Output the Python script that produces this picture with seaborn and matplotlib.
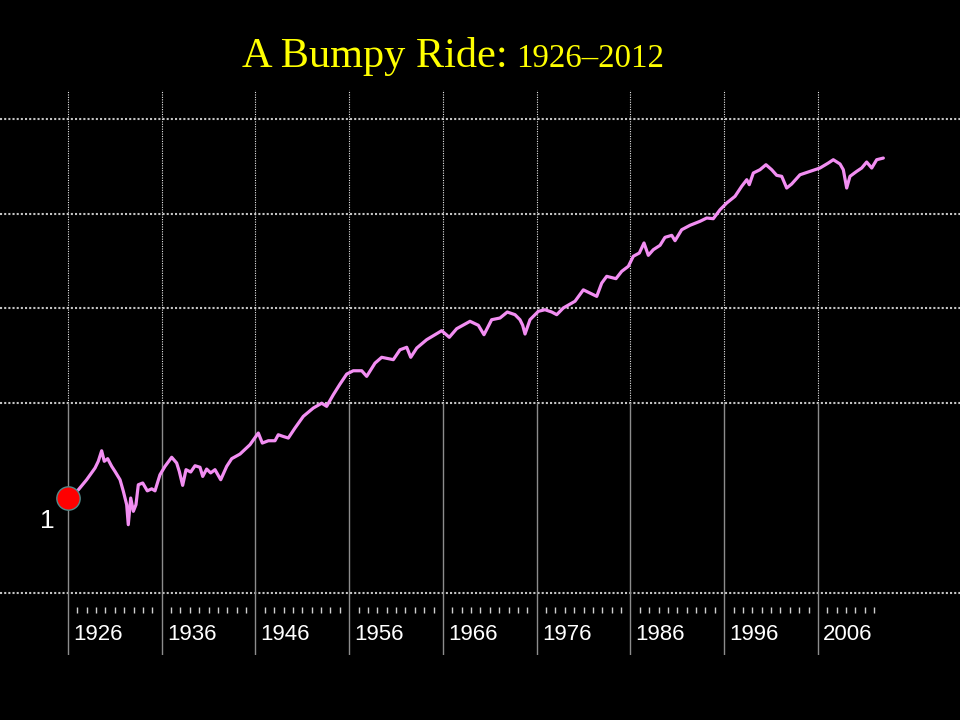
import matplotlib
matplotlib.use("Agg")
import matplotlib.pyplot as plt
import seaborn as sns
import pandas as pd

# ---- data ----
years = [1926.0, 1927.10, 1927.99, 1928.88, 1929.23, 1929.59, 1929.87, 1930.23, 1930.66, 1931.01,
         1931.55, 1931.90, 1932.26, 1932.43, 1932.69, 1932.97, 1933.25, 1933.50, 1933.97, 1934.46,
         1934.93, 1935.28, 1935.81, 1936.35, 1937.06, 1937.59, 1937.87, 1938.23, 1938.59, 1939.09,
         1939.55, 1940.08, 1940.37, 1940.79, 1941.22, 1941.68, 1942.29, 1942.93, 1943.46, 1944.35,
         1945.41, 1946.30, 1946.73, 1947.37, 1948.08, 1948.43, 1948.90, 1949.50, 1950.21, 1951.10,
         1952.17, 1953.06, 1953.59, 1954.30, 1955.01, 1955.73, 1956.43, 1957.33, 1957.86, 1958.75,
         1959.46, 1960.70, 1961.41, 1962.13, 1962.56, 1963.20, 1964.26, 1965.86, 1966.67, 1967.46,
         1968.88, 1969.77, 1970.37, 1971.19, 1972.08, 1972.86, 1973.68, 1974.21, 1974.50, 1974.75,
         1975.28, 1976.17, 1976.88, 1977.60, 1978.13, 1978.83, 1980.08, 1980.97, 1981.68, 1982.40,
         1982.93, 1983.46, 1984.45, 1985.06, 1985.77, 1986.30, 1986.94, 1987.44, 1987.90, 1988.43,
         1989.15, 1989.68, 1990.40, 1990.75, 1991.46, 1992.35, 1993.42, 1994.13, 1994.83, 1995.55,
         1996.26, 1997.15, 1997.86, 1998.40, 1998.67, 1999.10, 1999.81, 2000.45, 2001.06, 2001.59,
         2002.13, 2002.66, 2003.19, 2004.08, 2005.15, 2006.21, 2007.10, 2007.63, 2008.35, 2008.70,
         2009.06, 2009.41, 2010.13, 2010.66, 2011.19, 2011.73, 2012.26, 2012.97]

values = [1.00, 1.22, 1.56, 2.07, 2.44, 3.15, 2.44, 2.60, 2.16, 1.91,
          1.56, 1.18, 0.85, 0.523, 1.00, 0.724, 0.85, 1.38, 1.44, 1.19,
          1.25, 1.19, 1.76, 2.16, 2.69, 2.34, 1.91, 1.36, 1.99, 1.88,
          2.19, 2.11, 1.69, 2.02, 1.84, 1.99, 1.56, 2.16, 2.60, 2.91,
          3.65, 4.85, 3.80, 4.02, 4.02, 4.65, 4.48, 4.29, 5.47, 7.27,
          8.90, 10.0, 9.27, 12.3, 15.9, 20.3, 22.0, 22.0, 19.2, 26.5,
          30.5, 28.8, 36.6, 38.9, 30.5, 38.2, 46.8, 58.2, 49.6, 61.1,
          73.1, 66.4, 52.8, 76.0, 79.2, 91.6, 85.9, 76.0, 66.4, 53.7,
          76.0, 93.2, 96.9, 91.6, 85.9, 101, 119, 157, 145, 134,
          185, 218, 206, 246, 278, 355, 384, 490, 363, 416,
          463, 562, 590, 518, 676, 753, 830, 899, 884, 1099,
          1294, 1523, 1942, 2280, 2020, 2682, 2904, 3281, 2904, 2535,
          2473, 1862, 2052, 2570, 2792, 3027, 3417, 3703, 3337, 2904,
          1862, 2473, 2792, 3027, 3500, 3027, 3703, 3856]

decade_labels = [1926, 1936, 1946, 1956, 1966, 1976, 1986, 1996, 2006]
grid_levels = [0.1, 10, 100, 1000, 10000]
start_label = "1"
title_main = "A Bumpy Ride:"
title_years = "1926\u20132012"

# ---- styling ----
LINE_COLOR = "#F28EF2"
sns.set_theme(style="white")
plt.rcParams["font.family"] = ["Liberation Sans", "DejaVu Sans"]

fig = plt.figure(figsize=(9.6, 7.2), dpi=100, facecolor="black")
ax = fig.add_axes([0, 65 / 720, 1, 565 / 720])
ax.set_facecolor("black")

df = pd.DataFrame({"year": years, "value": values})
sns.lineplot(data=df, x="year", y="value", ax=ax, color=LINE_COLOR,
             linewidth=2.3, estimator=None, sort=False, zorder=3)

ax.set_yscale("log")
ax.set_xlim(1918.747, 2021.147)
y_lo, y_hi = 10 ** -1.656, 10 ** 4.304
ax.set_ylim(y_lo, y_hi)
for s in ax.spines.values():
    s.set_visible(False)
ax.set_xticks([])
ax.set_yticks([])
ax.yaxis.set_minor_locator(matplotlib.ticker.NullLocator())
ax.set_xlabel("")
ax.set_ylabel("")

# horizontal dotted gridlines
for lv in grid_levels:
    ax.axhline(lv, color="#c4c4c4", lw=1.5, ls=(0, (1, 1)), zorder=1)

# vertical decade lines: dotted above 10, solid grey below
for d in decade_labels:
    ax.plot([d, d], [10, y_hi], color="#e8e8e8", lw=0.8, ls=(0, (1, 1.2)), zorder=1)
    ax.plot([d, d], [y_lo, 10], color="#8c8c8c", lw=1.0, zorder=1)

# small year ticks
minor_years = [y for y in range(1927, 2013) if (y - 1926) % 10 != 0]
ax.vlines(minor_years, 0.0743, 0.085, transform=ax.get_xaxis_transform(),
          colors="#d0d0d0", lw=1.0, zorder=2)

# decade labels
for d in decade_labels:
    ax.text(d + 0.55, 0.0354, str(d), transform=ax.get_xaxis_transform(),
            ha="left", va="center", color="white", fontsize=16)

# starting dot and its label
sns.scatterplot(x=[years[0]], y=[values[0]], ax=ax, s=16.8 ** 2, color="#FF0000",
                edgecolor="#4f8a8b", linewidth=1.0, zorder=5, legend=False)
ax.annotate(start_label, xy=(years[0], values[0]), xytext=(-21, -23),
            textcoords="offset pixels", ha="center", va="center",
            color="white", fontsize=19)

# title
fig.text(242 / 960, 0.9069, title_main, family=["Liberation Serif", "DejaVu Serif"],
         fontsize=30.5, color="#FFFF00", va="baseline", ha="left")
fig.text(516 / 960, 0.9069, title_years, family=["Liberation Serif", "DejaVu Serif"],
         fontsize=23.7, color="#FFFF00", va="baseline", ha="left")

fig.savefig("out.png", dpi=100, facecolor="black")
